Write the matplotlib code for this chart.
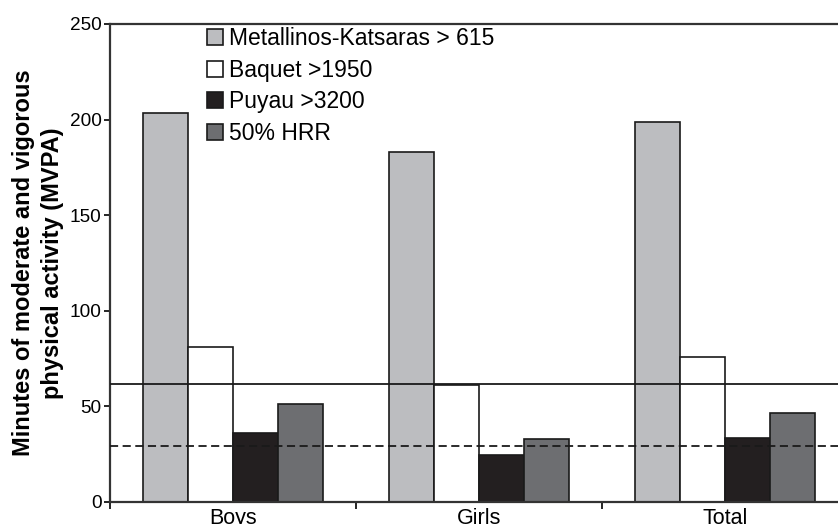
import matplotlib
matplotlib.use("Agg")
import matplotlib.pyplot as plt
import numpy as np

# values
categories = ["Boys", "Girls", "Total"]
series_labels = ["Metallinos-Katsaras > 615", "Baquet >1950", "Puyau >3200", "50% HRR"]
metallinos = [203.5, 183, 198.5]
baquet = [81, 61, 76]
puyau = [36, 24.5, 33.5]
hrr = [51.5, 33, 46.5]
solid_ref = 61.5
dashed_ref = 29.5
y_ticks = [0, 50, 100, 150, 200, 250]

colors = ["#bcbdc0", "#ffffff", "#231f20", "#6d6e71"]

plt.rcParams["font.family"] = ["Liberation Sans", "DejaVu Sans"]

W, H = 838, 524
fig = plt.figure(figsize=(W / 100, H / 100), dpi=100)
ax = fig.add_axes([110 / W, 22 / H, (848 - 110) / W, 478 / H])

x = np.arange(len(categories))
bar_w = 0.183
all_series = [metallinos, baquet, puyau, hrr]
for i, (vals, lab, col) in enumerate(zip(all_series, series_labels, colors)):
    offset = (i - 1.5) * bar_w
    ax.bar(x + offset, vals, width=bar_w, color=col, edgecolor="#1a1a1a",
           linewidth=1.2, label=lab, zorder=2)

ax.axhline(solid_ref, color="#1a1a1a", lw=1.3, zorder=3)
ax.axhline(dashed_ref, color="#1a1a1a", lw=1.3, linestyle=(0, (4.5, 2.5)), zorder=3)

ax.set_xlim(-0.5, 2.5)
ax.set_ylim(0, 250)
ax.set_yticks(y_ticks)
ax.tick_params(axis="y", labelsize=13.7, length=4, width=1.2, direction="out", pad=2)

ax.set_xticks(x)
ax.set_xticklabels(categories)
ax.set_xticks([-0.5, 0.5, 1.5], minor=True)
ax.tick_params(axis="x", which="major", length=0, labelsize=15.5, pad=4)
ax.tick_params(axis="x", which="minor", length=5, width=1.2, direction="out")

for side in ["left", "bottom", "top"]:
    ax.spines[side].set_linewidth(1.6)
    ax.spines[side].set_color("#333333")
ax.spines["right"].set_visible(False)

fig.text(38 / W, 1 - 263 / H, "Minutes of moderate and vigorous\nphysical activity (MVPA)",
         rotation=90, ha="center", va="center", fontsize=17, fontweight="bold",
         linespacing=1.3)

leg = ax.legend(loc="upper left", bbox_to_anchor=(207 / W, 1 - 27 / H),
                bbox_transform=fig.transFigure, frameon=False, fontsize=16.5,
                handlelength=0.7, handleheight=0.7, handletextpad=0.25,
                labelspacing=0.38, borderaxespad=0, borderpad=0)

fig.savefig("out.png", dpi=100)
